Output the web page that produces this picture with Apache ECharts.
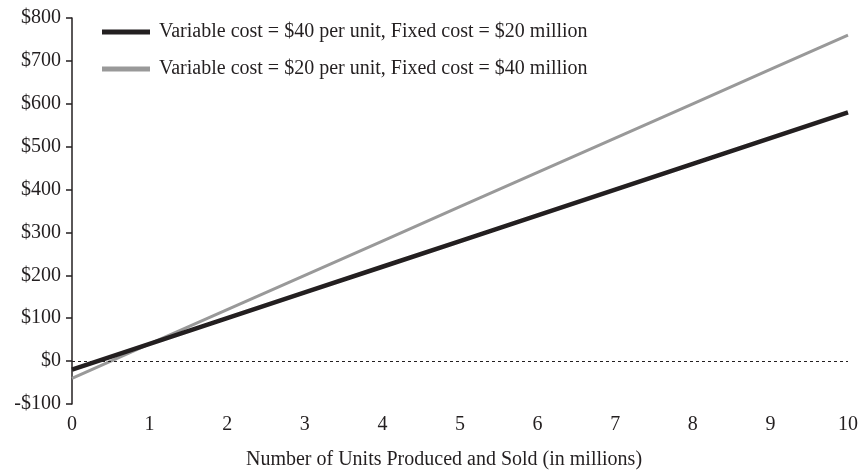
<!DOCTYPE html>
<html>
<head>
<meta charset="utf-8">
<script src="https://cdn.jsdelivr.net/npm/echarts@6/dist/echarts.min.js"></script>
<style>
  html, body { margin: 0; padding: 0; background: #fff; }
  #chart { width: 863px; height: 470px; }
</style>
</head>
<body>
<div id="chart"></div>
<script>
// Units produced and sold (millions)
const units = [0, 1, 2, 3, 4, 5, 6, 7, 8, 9, 10];
// Operating income ($ millions) for the two cost structures
const incomeHighVariable = [-20, 40, 100, 160, 220, 280, 340, 400, 460, 520, 580];
const incomeHighFixed = [-40, 40, 120, 200, 280, 360, 440, 520, 600, 680, 760];
const seriesNames = [
  'Variable cost = $40 per unit, Fixed cost = $20 million',
  'Variable cost = $20 per unit, Fixed cost = $40 million'
];
const yTicks = [-100, 0, 100, 200, 300, 400, 500, 600, 700, 800];

const font = '"Liberation Serif", "DejaVu Serif", serif';
const ink = '#231f20';
const fs = 20;

const chart = echarts.init(document.getElementById('chart'));
chart.setOption({
  animation: false,
  textStyle: { fontFamily: font, color: ink },
  grid: { left: 72, right: 15, top: 18, bottom: 66, containLabel: false, outerBoundsMode: 'none' },
  legend: {
    orient: 'vertical',
    left: 97,
    top: 17,
    itemWidth: 48,
    itemHeight: 5,
    itemGap: 17,
    icon: 'rect',
    textStyle: { fontFamily: font, fontSize: fs, lineHeight: 20, color: ink, padding: [0, 0, 0, 4] },
    data: [
      { name: seriesNames[0], itemStyle: { color: ink } },
      { name: seriesNames[1], itemStyle: { color: '#999999' } }
    ]
  },
  xAxis: {
    type: 'value',
    min: 0,
    max: 10,
    interval: 1,
    axisLine: { show: false },
    axisTick: { show: false },
    splitLine: { show: false },
    axisLabel: { fontFamily: font, fontSize: fs, color: ink, margin: 11 },
    name: 'Number of Units Produced and Sold (in millions)',
    nameLocation: 'middle',
    nameGap: 46,
    nameTextStyle: { fontFamily: font, fontSize: fs, color: ink, padding: [0, 32, 0, 0] }
  },
  yAxis: {
    type: 'value',
    min: yTicks[0],
    max: yTicks[yTicks.length - 1],
    interval: 100,
    axisLine: { show: true, lineStyle: { color: ink, width: 1.5 } },
    axisTick: { show: true, length: 6, lineStyle: { color: ink, width: 1.5 } },
    splitLine: { show: false },
    axisLabel: {
      fontFamily: font, fontSize: fs, color: ink, margin: 11,
      formatter: v => (v < 0 ? '-$' + Math.abs(v) : '$' + v)
    }
  },
  series: [
    {
      name: seriesNames[0],
      type: 'line',
      data: units.map((u, i) => [u, incomeHighVariable[i]]),
      symbol: 'none',
      z: 3,
      lineStyle: { color: ink, width: 4.5 },
      itemStyle: { color: ink },
      markLine: {
        silent: true,
        symbol: 'none',
        label: { show: false },
        lineStyle: { color: ink, width: 1.2, type: [3, 3] },
        data: [{ yAxis: 0 }]
      }
    },
    {
      name: seriesNames[1],
      type: 'line',
      data: units.map((u, i) => [u, incomeHighFixed[i]]),
      symbol: 'none',
      z: 2,
      lineStyle: { color: '#999999', width: 3 },
      itemStyle: { color: '#999999' }
    }
  ]
});
</script>
</body>
</html>
